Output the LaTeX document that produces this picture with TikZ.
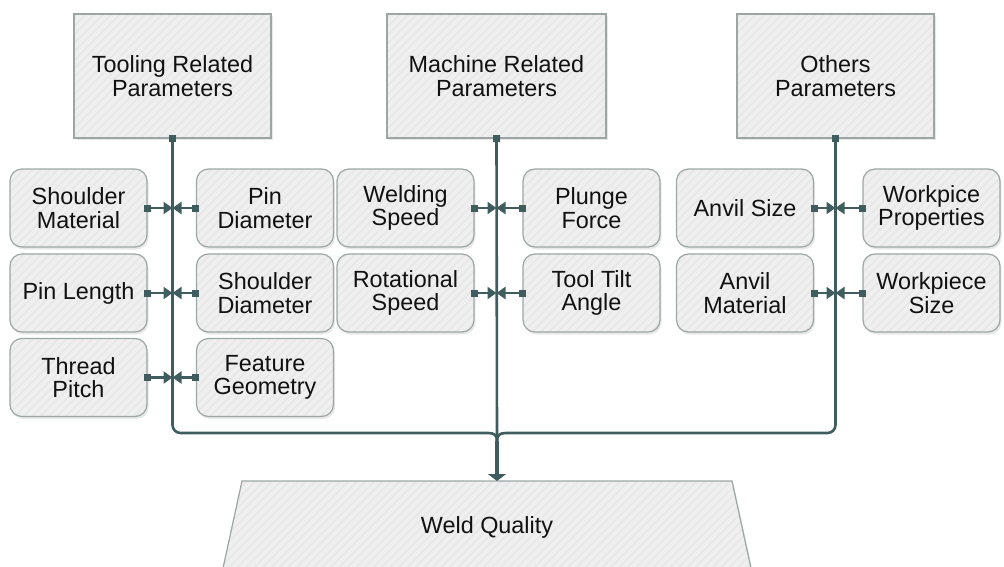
\documentclass[tikz,border=0pt]{standalone}
\usepackage{fontspec}
\setmainfont{Liberation Sans}
\usetikzlibrary{arrows.meta,shadows,patterns.meta}

\definecolor{linkcol}{HTML}{3F5D5F}
\definecolor{edgecol}{HTML}{9CA6A5}
\definecolor{boxfill}{HTML}{EFEFEF}
\definecolor{hatchcol}{HTML}{E7E7E7}
\definecolor{inkcol}{HTML}{111111}

\tikzset{
  boxbase/.style={draw=edgecol, line width=1.2pt,
    drop shadow={opacity=0.18, shadow xshift=1.5pt, shadow yshift=-2.5pt},
    preaction={fill=boxfill},
    preaction={pattern={Lines[angle=45,distance=6pt,line width=1.5pt]}, pattern color=hatchcol},
    text=inkcol, align=center, inner sep=0pt,
    font=\fontsize{23.4pt}{23.5pt}\selectfont},
  groupbox/.style={boxbase, minimum height=124pt},
  itembox/.style={boxbase, rounded corners=12pt, minimum width=137pt, minimum height=78pt},
  trunk/.style={draw=linkcol, line width=2.6pt},
  feed/.style={draw=linkcol, line width=2.4pt,
    {Square[length=7pt,width=7pt]}-{Triangle[length=9pt,width=12pt]},
    shorten <=-3.5pt},
}

\begin{document}
\begin{tikzpicture}[x=1pt,y=-1pt]
\useasboundingbox (0,0) rectangle (1004,567);

% group headers
\node[groupbox, minimum width=197pt] (tool) at (172.5,76) {Tooling Related\\Parameters};
\node[groupbox, minimum width=219pt] (mach) at (496.5,76) {Machine Related\\Parameters};
\node[groupbox, minimum width=197pt] (oth)  at (835.5,76) {Others\\Parameters};

% tooling items
\node[itembox] (sm) at (78.5,208)   {Shoulder\\Material};
\node[itembox] (pd) at (265,208)    {Pin\\Diameter};
\node[itembox] (pl) at (78.5,293)   {Pin Length};
\node[itembox] (sd) at (265,293)    {Shoulder\\Diameter};
\node[itembox] (tp) at (78.5,377.5) {Thread\\Pitch};
\node[itembox] (fg) at (265,377.5)  {Feature\\Geometry};

% machine items
\node[itembox] (ws) at (405.5,208) {Welding\\Speed};
\node[itembox] (pf) at (591.5,208) {Plunge\\Force};
\node[itembox] (rs) at (405.5,293) {Rotational\\Speed};
\node[itembox] (tt) at (591.5,293) {Tool Tilt\\Angle};

% other items
\node[itembox] (as) at (745,208)   {Anvil Size};
\node[itembox] (wp) at (931.5,208) {Workpice\\Properties};
\node[itembox] (am) at (745,293)   {Anvil\\Material};
\node[itembox] (wz) at (931.5,293) {Workpiece\\Size};

% result block
\path[boxbase] (242,481) -- (732,481) -- (752.5,575) -- (221.5,575) -- cycle;
\node[text=inkcol, font=\fontsize{23.4pt}{23.5pt}\selectfont] (wq) at (487,527) {Weld Quality};

% trunks and junction
\coordinate (jl) at (488,433);
\coordinate (jr) at (506,433);
\coordinate (j)  at (497,441);
\coordinate (wqtop) at (497,481);

\draw[trunk, {Square[length=7pt,width=7pt]}-, shorten <=-3.5pt, rounded corners=8pt]
  (tool.south) |- (jl);
\draw[trunk, {Square[length=7pt,width=7pt]}-, shorten <=-3.5pt, rounded corners=8pt]
  (oth.south) |- (jr);
\draw[trunk] (jl) .. controls (494,433) and (497,435) .. (j);
\draw[trunk] (jr) .. controls (500,433) and (497,435) .. (j);
\draw[trunk, {Square[length=7pt,width=7pt]}-, shorten <=-3.5pt] (mach.south) -- (j);
\draw[draw=linkcol, line width=4pt, -{Triangle[length=7pt,width=18pt]}] (j) -- (wqtop);

% feeders into the trunks
\foreach \n in {sm,pl,tp} \draw[feed] (\n.east) -- (\n.east -| tool.south);
\foreach \n in {pd,sd,fg} \draw[feed] (\n.west) -- (\n.west -| tool.south);
\foreach \n in {ws,rs} \draw[feed] (\n.east) -- (\n.east -| mach.south);
\foreach \n in {pf,tt} \draw[feed] (\n.west) -- (\n.west -| mach.south);
\foreach \n in {as,am} \draw[feed] (\n.east) -- (\n.east -| oth.south);
\foreach \n in {wp,wz} \draw[feed] (\n.west) -- (\n.west -| oth.south);
\end{tikzpicture}
\end{document}
